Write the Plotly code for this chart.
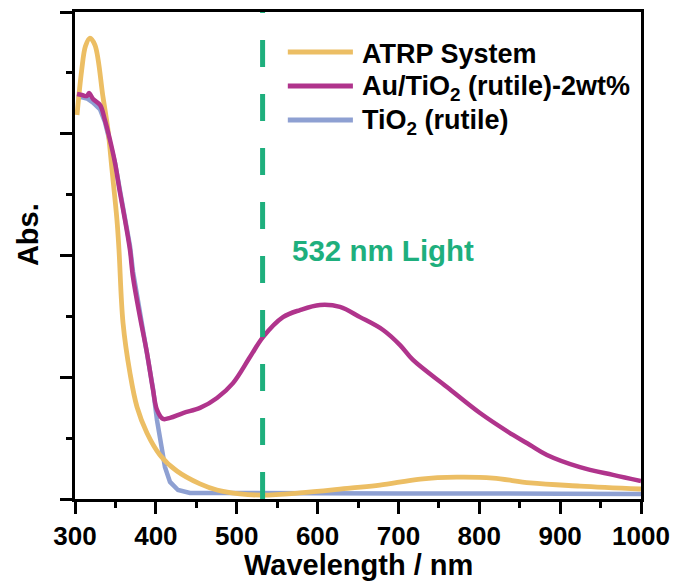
import plotly.graph_objects as go

# ---- data ----
atrp_nm = [302.5, 308.3, 313.0, 318.5, 324.7, 334.6, 340.8, 345.8, 351.9, 354.4, 359.4, 368.0,
           376.7, 389.0, 405.0, 426.0, 454.6, 475.6, 504.0, 532.5, 578.0, 640.0, 677.0, 727.0,
           772.0, 817.0, 863.0, 924.5, 1000.0]
atrp_abs = [1.577, 1.762, 1.860, 1.893, 1.864, 1.651, 1.515, 1.351, 1.146, 1.023, 0.723, 0.517,
            0.378, 0.271, 0.181, 0.115, 0.062, 0.037, 0.021, 0.016, 0.025, 0.045, 0.057, 0.082,
            0.090, 0.086, 0.066, 0.053, 0.041]

au_nm = [302.5, 308.7, 314.8, 317.3, 322.3, 331.0, 337.0, 343.3, 349.5, 355.7, 361.8, 368.0,
         371.7, 380.4, 389.0, 396.5, 401.4, 408.8, 417.5, 433.6, 454.6, 475.6, 495.4, 516.4,
         532.5, 557.2, 578.3, 603.0, 627.7, 652.5, 681.0, 702.0, 718.0, 760.0, 800.9, 841.7,
         862.7, 883.7, 924.5, 965.3, 1000.0]
au_abs = [1.663, 1.659, 1.655, 1.667, 1.643, 1.618, 1.556, 1.474, 1.380, 1.257, 1.146, 1.023,
          0.912, 0.747, 0.600, 0.448, 0.366, 0.329, 0.333, 0.353, 0.374, 0.415, 0.476, 0.583,
          0.665, 0.747, 0.776, 0.797, 0.789, 0.747, 0.694, 0.632, 0.571, 0.460, 0.353, 0.263,
          0.222, 0.181, 0.131, 0.099, 0.074]

tio2_nm = [302.5, 308.7, 314.8, 322.3, 331.0, 337.0, 343.3, 349.5, 355.7, 361.8, 368.0, 371.7,
           380.4, 389.0, 396.5, 401.4, 406.4, 411.3, 417.5, 427.4, 442.2, 480.0, 530.0, 600.0,
           700.0, 800.0, 900.0, 1000.0]
tio2_abs = [1.655, 1.650, 1.645, 1.628, 1.600, 1.548, 1.470, 1.380, 1.265, 1.160, 1.040, 0.935,
            0.770, 0.620, 0.452, 0.324, 0.222, 0.131, 0.070, 0.037, 0.025, 0.024, 0.023, 0.024,
            0.023, 0.024, 0.022, 0.021]

series_names = ["ATRP System", "Au/TiO<sub>2</sub> (rutile)-2wt%", "TiO<sub>2</sub> (rutile)"]
series_colors = ["#ECBE64", "#B0348C", "#8EA0D2"]
laser_nm = 532
laser_label = "532 nm Light"
laser_color = "#1EAF7D"
x_ticks = [300, 400, 500, 600, 700, 800, 900, 1000]

FONT = "Liberation Sans, Arial, sans-serif"

fig = go.Figure()
fig.add_trace(go.Scatter(x=tio2_nm, y=tio2_abs, mode="lines", name=series_names[2],
                         line=dict(color=series_colors[2], width=4.5), showlegend=False))
fig.add_trace(go.Scatter(x=atrp_nm, y=atrp_abs, mode="lines", name=series_names[0],
                         line=dict(color=series_colors[0], width=4.8, shape="spline"), showlegend=False))
fig.add_trace(go.Scatter(x=au_nm, y=au_abs, mode="lines", name=series_names[1],
                         line=dict(color=series_colors[1], width=4.5, shape="spline"), showlegend=False))

# dashed laser line
fig.add_shape(type="line", xref="x", yref="paper", x0=laser_nm, x1=laser_nm, y0=0, y1=1,
              line=dict(color=laser_color, width=5, dash="27px,27px"), layer="above")

fig.add_annotation(text="<b>" + laser_label + "</b>", xref="paper", yref="paper",
                   x=0.38, y=0.511, xanchor="left", yanchor="middle", showarrow=False,
                   font=dict(family=FONT, size=29.5, color=laser_color))

# manual legend
leg_y = [0.918, 0.848, 0.778]
order = [0, 1, 2]
for i, yy in zip(order, leg_y):
    fig.add_shape(type="line", xref="paper", yref="paper", x0=0.376, x1=0.491, y0=yy, y1=yy,
                  line=dict(color=series_colors[i], width=5))
    fig.add_annotation(text="<b>" + series_names[i] + "</b>", xref="paper", yref="paper",
                       x=0.5035, y=yy - 0.004, xanchor="left", yanchor="middle", showarrow=False,
                       font=dict(family=FONT, size=27, color="black"))

# axis titles
fig.add_annotation(text="<b>Wavelength / nm</b>", xref="paper", yref="paper", x=0.5, y=-0.135,
                   xanchor="center", yanchor="middle", showarrow=False,
                   font=dict(family=FONT, size=29, color="black"))
fig.add_annotation(text="<b>Abs.</b>", xref="paper", yref="paper", x=-0.083, y=0.542,
                   xanchor="center", yanchor="middle", textangle=-90, showarrow=False,
                   font=dict(family=FONT, size=29, color="black"))

fig.update_xaxes(range=[300, 1000], tickvals=x_ticks, ticktext=["<b>%d</b>" % v for v in x_ticks],
                 ticks="outside", ticklen=12, tickwidth=3, tickcolor="black",
                 showline=True, linewidth=3, linecolor="black", mirror=True,
                 showgrid=False, zeroline=False, automargin=False, ticklabelstandoff=0,
                 tickfont=dict(family=FONT, size=26, color="black"),
                 minor=dict(ticks="outside", ticklen=6, tickwidth=3, tickcolor="black", dtick=50, showgrid=False))
fig.update_yaxes(range=[0, 2], dtick=0.5, showticklabels=False,
                 ticks="outside", ticklen=12, tickwidth=3, tickcolor="black",
                 showline=True, linewidth=3, linecolor="black", mirror=True,
                 showgrid=False, zeroline=False, automargin=False,
                 minor=dict(ticks="outside", ticklen=6, tickwidth=3, tickcolor="black", dtick=0.25, showgrid=False))

fig.update_layout(width=675, height=583, margin=dict(l=75, r=34, t=12, b=84),
                  plot_bgcolor="white", paper_bgcolor="white", showlegend=False)

fig.write_html("out.html", config={"displayModeBar": False},
               post_script="document.body.style.margin='0';document.body.style.overflow='hidden';")
